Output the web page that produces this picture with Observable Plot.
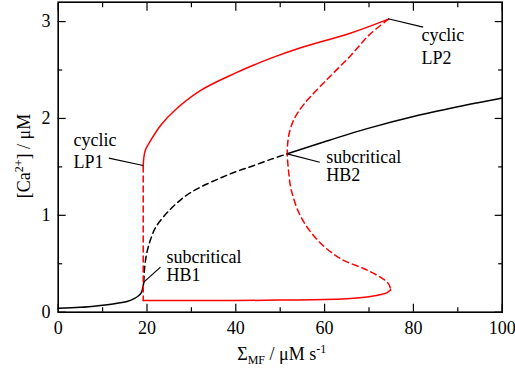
<!DOCTYPE html>
<html><head><meta charset="utf-8">
<script src="https://cdn.jsdelivr.net/npm/d3@7"></script>
<script src="https://cdn.jsdelivr.net/npm/@observablehq/plot@0.6"></script>
<style>body{margin:0;background:#fff}</style>
</head><body><div id="chart"></div>
<script>
// steady states [Σ_MF, Ca]
const stableLow = [[0,0.04],[5,0.05],[9.5,0.07],[13,0.09],[15.5,0.11],[17.1,0.14],[18.1,0.17],[18.7,0.2],[19.05,0.25],[19.28,0.31]];
const unstableSS = [[19.28,0.31],[19.45,0.45],[19.9,0.6],[20.8,0.75],[22,0.88],[25,1.05],[28.7,1.2],[32,1.29],[36.3,1.38],[40,1.45],[43.8,1.51],[48,1.58],[51.6,1.635]];
const stableHigh = [[51.6,1.635],[60,1.76],[70,1.9],[80,2.02],[90,2.12],[100,2.21]];
// periodic orbits (max / min)
const cycStableMax = [[19.15,1.51],[19.25,1.58],[19.6,1.67],[20.8,1.77],[23.1,1.93],[26.4,2.09],[32.1,2.29],[40,2.47],[47.8,2.62],[54.6,2.73],[65.8,2.88],[74.4,3.025]];
const cycUnstable = [[74.4,3.025],[70,2.86],[65.9,2.65],[60.7,2.41],[55.4,2.15],[53.2,2.0],[52.1,1.86],[51.7,1.75],[51.6,1.635],[51.9,1.45],[52.5,1.26],[54.7,0.98],[58.5,0.74],[63.7,0.55],[69.8,0.43],[74.3,0.3],[74.9,0.23]];
const cycStableMin = [[19.15,0.12],[30,0.12],[40,0.12],[50,0.125],[60,0.13],[65,0.14],[70,0.16],[72.5,0.18],[74,0.2],[74.9,0.23]];
const lp1Jump = [[19.15,1.51],[19.15,0.12]];
// ticks
const xMajor = [0,20,40,60,80,100];
const xMinor = [10,30,50,70,90];
const yMajor = [0,1,2,3];
const yMinor = [0.5,1.5,2.5];
// annotations
const annText = ["cyclic","LP1","cyclic","LP2","subcritical","HB2","subcritical","HB1"];
const annX = [3.45,3.45,81.8,81.8,60.36,60.36,24.39,24.39];
const annY = [1.78,1.55,2.864,2.624,1.602,1.419,0.566,0.382];
const leadX1 = [19.14,74.3,51.58,19.28];
const leadY1 = [1.514,3.029,1.635,0.31];
const leadX2 = [11.4,82.2,58.92,23.04];
const leadY2 = [1.59,2.942,1.548,0.465];

const ann = annText.map((t,i)=>({t, x:annX[i], y:annY[i]}));
const leaders = leadX1.map((x,i)=>({x1:x, y1:leadY1[i], x2:leadX2[i], y2:leadY2[i]}));
const ln = (data, stroke, dash) => Plot.line(data, {x:d=>d[0], y:d=>d[1], stroke, strokeWidth:1.5, strokeDasharray:dash, curve:"catmull-rom"});
const tk = {text:null, label:null, strokeWidth:1.2};

const chart = Plot.plot({
  width:515, height:372,
  marginLeft:57.7, marginRight:13.3, marginTop:1.7, marginBottom:60.3,
  style:{fontFamily:"'Liberation Serif','Times New Roman',serif", fontSize:"18px", background:"#fff", color:"#000"},
  x:{domain:[0,100]}, y:{domain:[0,3.2]},
  marks:[
    Plot.axisX(xMajor,{anchor:"bottom", tickSize:8, dy:-8, ...tk}),
    Plot.axisX(xMinor,{anchor:"bottom", tickSize:4.5, dy:-4.5, ...tk}),
    Plot.axisX(xMajor,{anchor:"top", tickSize:8, dy:8, ...tk}),
    Plot.axisX(xMinor,{anchor:"top", tickSize:4.5, dy:4.5, ...tk}),
    Plot.axisY(yMajor,{anchor:"left", tickSize:8, dx:8, ...tk}),
    Plot.axisY(yMinor,{anchor:"left", tickSize:4.5, dx:4.5, ...tk}),
    Plot.axisY(yMajor,{anchor:"right", tickSize:8, dx:-8, ...tk}),
    Plot.axisY(yMinor,{anchor:"right", tickSize:4.5, dx:-4.5, ...tk}),
    Plot.axisX(xMajor,{anchor:"bottom", tickSize:0, tickPadding:9.5, label:null, fontSize:18, tickFormat:d3.format("d")}),
    Plot.axisY(yMajor,{anchor:"left", tickSize:0, tickPadding:7.7, label:null, fontSize:18, tickFormat:d3.format("d")}),
    Plot.frame({strokeWidth:1.6}),
    ln(stableLow,"#000",null),
    ln(unstableSS,"#000","6,4"),
    ln(stableHigh,"#000",null),
    ln(cycStableMax,"#ff0000",null),
    ln(cycUnstable,"#ff0000","6,4"),
    ln(cycStableMin,"#ff0000",null),
    ln(lp1Jump,"#ff0000","6,4"),
    Plot.link(leaders,{x1:"x1",y1:"y1",x2:"x2",y2:"y2",stroke:"#000",strokeWidth:1.2}),
    Plot.text(ann,{x:"x",y:"y",text:"t",textAnchor:"start",lineAnchor:"middle",fontSize:18,fill:"#000"})
  ]
});
document.getElementById("chart").appendChild(chart);

const svg = d3.select(chart);
const xl = svg.append("text").attr("x",281.7).attr("y",360).attr("text-anchor","middle")
  .attr("font-family","'Liberation Serif','Times New Roman',serif").attr("font-size",18).attr("fill","#000");
xl.append("tspan").text("Σ");
xl.append("tspan").attr("font-size",12).attr("dy",4).text("MF");
xl.append("tspan").attr("dy",-4).text(" / μM s");
xl.append("tspan").attr("font-size",12).attr("dy",-7).text("-1");

const yl = svg.append("text").attr("transform","translate(30,156) rotate(-90)").attr("text-anchor","middle")
  .attr("font-family","'Liberation Serif','Times New Roman',serif").attr("font-size",18).attr("fill","#000");
yl.append("tspan").text("[Ca");
yl.append("tspan").attr("font-size",12).attr("dy",-7).text("2+");
yl.append("tspan").attr("dy",7).text("] / μM");
</script>
</body></html>
